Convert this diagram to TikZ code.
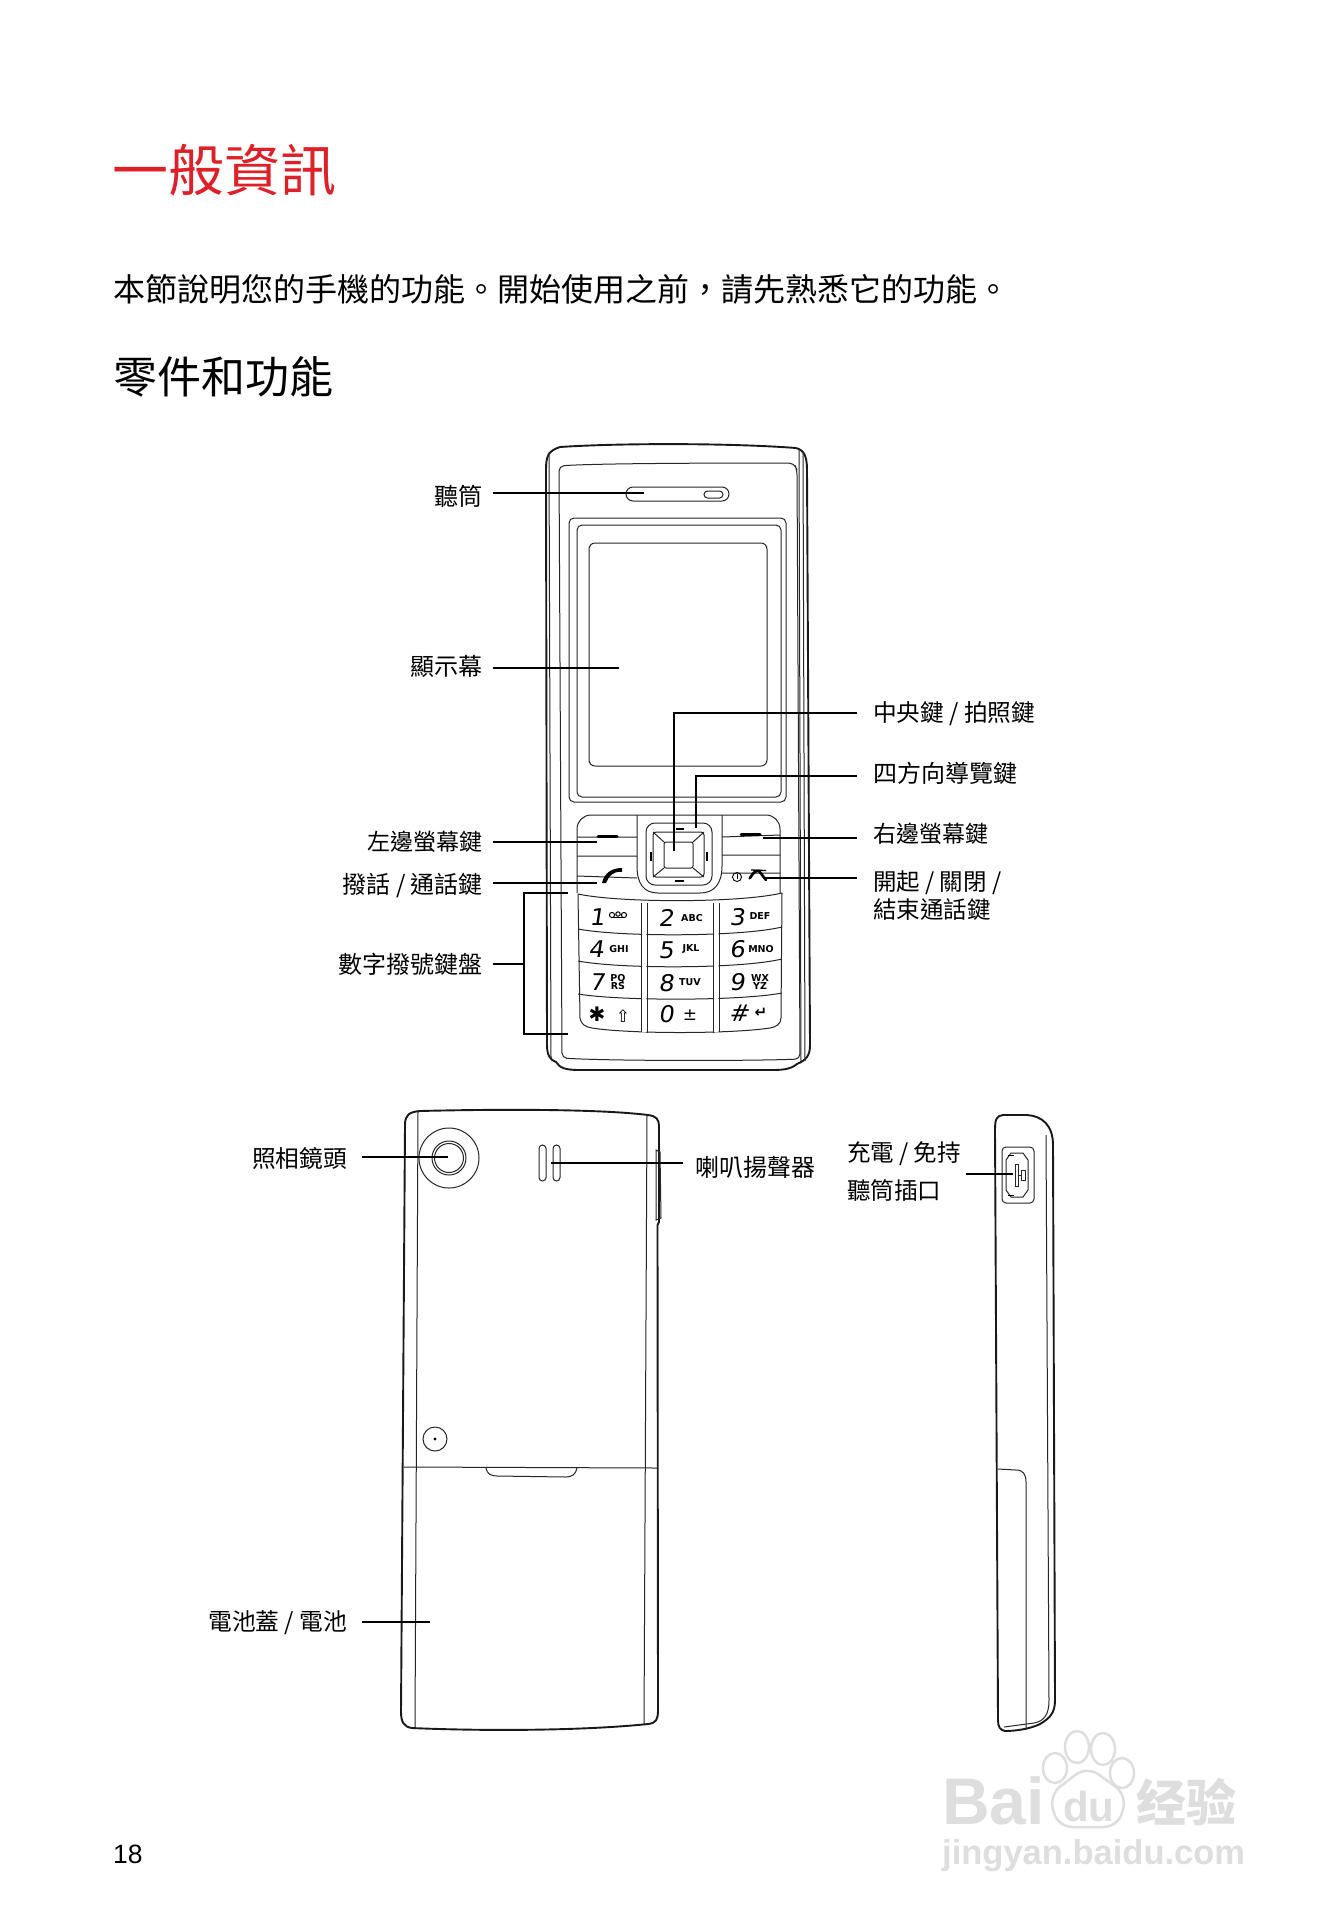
\documentclass[tikz,border=0pt]{standalone}
\usepackage{fontspec}
\setmainfont{Liberation Sans}
\newfontfamily\cjkf{Noto Sans CJK TC}
\newfontfamily\symf{DejaVu Sans}
\newfontfamily\keyf{DejaVu Sans}[FakeSlant=0.15,FakeStretch=1.05]
\definecolor{titlered}{RGB}{222,32,40}
\definecolor{wm}{RGB}{222,222,222}
\newcommand\fsz[1]{\fontsize{#1pt}{#1pt}\selectfont}
\newcommand\keyrowline[3]{\draw[tl] (578,#1) .. controls (620,#2) and (740,#2) .. (782,#3);}
\tikzset{
  ol/.style={line width=1.9pt,black!90},
  tl/.style={line width=1pt,black!85},
  lead/.style={line width=2pt,black},
  lblL/.style={anchor=east,inner ysep=0pt,inner xsep=10pt,font=\cjkf\fsz{24}},
  lblLb/.style={anchor=east,inner ysep=0pt,inner xsep=15pt,font=\cjkf\fsz{24}},
  lblR/.style={anchor=west,inner ysep=0pt,inner xsep=16pt,font=\cjkf\fsz{23.5},align=left},
  digit/.style={inner sep=0pt,font=\keyf\fsz{23}},
  letters/.style={inner sep=0pt,font=\symf\bfseries\fsz{9.5},align=center},
}
\begin{document}
\begin{tikzpicture}[x=1pt,y=-1pt]
\useasboundingbox (0,0) rectangle (1324,1928);
\fill[white] (0,0) rectangle (1324,1928);

% page text
\node[anchor=west,inner sep=0pt,text=titlered,font=\cjkf\fsz{56}] (title) at (112,170) {一般資訊};
\node[anchor=west,inner sep=0pt,font=\cjkf\fsz{32}] (intro) at (113,289) {本節說明您的手機的功能。開始使用之前，請先熟悉它的功能。};
\node[anchor=west,inner sep=0pt,font=\cjkf\fsz{44}] (head) at (113,377) {零件和功能};
\node[anchor=west,inner sep=0pt,font=\fsz{26.5}] (pageno) at (113,1854) {18};

% ---------- front view ----------
\draw[ol] (546,470) .. controls (546,456) and (548,451) .. (560,447) .. controls (620,443) and (730,443) .. (796,448) .. controls (804,450) and (807,456) .. (807,470) -- (810,1045) .. controls (810,1056) and (806,1060) .. (797,1064) .. controls (790,1070) and (780,1070) .. (770,1070) -- (580,1070) .. controls (565,1070) and (560,1068) .. (556,1062) .. controls (550,1060) and (547,1055) .. (547,1045) -- cycle;
\draw[tl] (549,452) -- (551,1058);
\draw[tl] (799,449) -- (801,1063);
\draw[tl] (803,451) -- (805,1061);
\draw[tl,rounded corners=5pt] (559,466) .. controls (600,463) and (750,463) .. (794,463) -- (797,470) -- (800,1059) .. controls (750,1061) and (610,1061) .. (562,1058) -- cycle;
\draw[tl,rounded corners=7pt] (626,487) rectangle (729,501);
\draw[tl,rounded corners=3.5pt] (704,491) rectangle (723,498);
\draw[tl,rounded corners=5pt] (569,518) rectangle (786,802);
\draw[tl,rounded corners=5pt] (577,525) rectangle (781,797);
\draw[tl,rounded corners=6pt] (589,543) rectangle (767,766);

% soft keys
\draw[tl,rounded corners=14pt] (577,893) -- (577,815) -- (780,815) -- (780,893);
\draw[tl] (637,815) -- (637,866) .. controls (637,884) and (644,893) .. (658,893) -- (700,893) .. controls (714,893) and (722,884) .. (722,866) -- (722,815);
\draw[tl] (577,837) -- (637,837) (577,856) -- (637,856) (577,876) -- (637,878);
\draw[tl] (722,837) -- (780,835) (722,855) -- (780,855) (722,873) -- (780,873);
\draw[line width=3pt,line cap=round] (598,836) -- (617,836) (741,834) -- (760,834);
% nav
\draw[tl,rounded corners=9pt] (646,823) rectangle (712,885);
\draw[tl,rounded corners=3pt] (653,832) rectangle (704,877);
\draw[tl,rounded corners=2pt] (664,842) rectangle (693,868);
\draw[tl] (653,832) -- (664,842) (704,832) -- (693,842) (653,877) -- (664,868) (704,877) -- (693,868);
\draw[line width=2pt] (676,829) -- (684,829) (675,881) -- (684,881) (651,852) -- (651,861) (707,852) -- (707,861);
% call icons
\fill (602,883) .. controls (604,873) and (612,868) .. (622,868) -- (622,872) .. controls (617,871) and (613,873) .. (609,877) -- (606,883) -- cycle;
\draw[line width=1.3pt] (751,870) -- (766,870.5) (749,879) .. controls (752,873) and (756,869) .. (759,871) -- (766,880);
\draw[line width=2.6pt,line cap=round] (750,878) .. controls (753,873) and (756,870) .. (759,871) -- (766,880);
\draw[line width=0.9pt] (737,877) circle (4.5);
\draw[line width=0.9pt] (737,874) -- (737,879);

% keypad
\draw[tl] (578,894) .. controls (620,903) and (740,903) .. (782,893);
\keyrowline{929}{937}{927}
\keyrowline{961}{969}{959}
\keyrowline{994}{1001}{993}
\draw[tl] (578,894) -- (580,1018) .. controls (581,1024) and (585,1027) .. (592,1028) .. controls (630,1034) and (730,1034) .. (770,1028) .. controls (776,1027) and (781,1024) .. (781,1018) -- (782,893);
\fill[white] (641.6,903) rectangle (646.4,1032) (713.6,903) rectangle (718.4,1032);
\draw[tl] (641,903) -- (641,1032) (647,903) -- (647,1033) (713,903) -- (713,1033) (719,903) -- (719,1032);

\foreach \nm/\px/\py/\tx in {k1/597/917/1,k2/666/918/2,k3/737/917/3,k4/596/949/4,k5/666/950/5,k6/737/949/6,k7/597/982/7,k8/666/983/8,k9/737/982/9,k0/666/1014/0,kh/739/1013/\#}
  \node[digit] (\nm) at (\px,\py) {\tx};
\node[inner sep=0pt,font=\symf\fsz{20}] (ks) at (597,1014) {✱};
\foreach \nm/\px/\py/\tx in {la/692/918/ABC,lb/760/916/DEF,lc/619/949/GHI,ld/691/949/JKL,le/761/949/MNO,lf/690/982/TUV}
  \node[letters] (\nm) at (\px,\py) {\tx};
\node[letters] (lg) at (618,982) {PQ\\[-1pt]RS};
\node[letters] (lh) at (760,982) {WX\\[-1pt]YZ};
\node[inner sep=0pt,font=\symf\fsz{17}] (li) at (623,1016) {⇧};
\node[inner sep=0pt,font=\symf\fsz{17}] (lj) at (690,1015) {±};
\node[inner sep=0pt,font=\symf\bfseries\fsz{15}] (lk) at (761,1013) {↵};
\draw[line width=1pt] (612,915) circle (2.6) (624,915) circle (2.6) (618,914) circle (2.2);
\draw[line width=1pt] (612,917.6) -- (624,917.6);

% ---------- back view ----------
\draw[ol] (405,1125) .. controls (405,1115) and (409,1112) .. (420,1111) .. controls (500,1109) and (600,1109) .. (648,1115) .. controls (656,1116) and (659,1119) .. (659,1126) -- (659,1222) -- (657.5,1225) -- (658,1710) .. controls (658,1720) and (656,1723) .. (648,1724) .. controls (580,1731) and (480,1731) .. (412,1728) .. controls (404,1727) and (401,1722) .. (401,1712) -- cycle;
\draw[tl] (418,1112) -- (415,1727) (647,1115) -- (644,1725);
\draw[tl] (656,1150) -- (660,1152) -- (661,1218) -- (656,1220) -- cycle;
\draw[tl] (449,1158) circle (30);
\draw[tl] (449,1158) circle (17) (449,1158) circle (14.5);
\draw[tl,rounded corners=3.5pt] (539,1145) rectangle (546,1181) (553,1145) rectangle (560,1181);
\draw[tl] (435,1439) circle (12);
\fill (435,1439) circle (1.6);
\draw[tl] (404,1467) -- (657,1468);
\draw[tl] (486,1468) .. controls (487,1474) and (491,1476) .. (497,1476) -- (566,1477) .. controls (572,1477) and (576,1474) .. (577,1468);

% ---------- side view ----------
\draw[ol] (995,1130) .. controls (995,1118) and (997,1116) .. (1003,1115) -- (1027,1115) .. controls (1042,1116) and (1053,1125) .. (1053,1145) -- (1055,1700) .. controls (1055,1713) and (1050,1718) .. (1040,1724) .. controls (1030,1729) and (1015,1731) .. (1005,1731) .. controls (1000,1730) and (998,1727) .. (998,1720) -- cycle;
\draw[tl] (1046,1135) -- (1049,1700) .. controls (1049,1715) and (1044,1721) .. (1034,1723) -- (1004,1727);
\draw[tl] (998,1469) -- (1016,1470) .. controls (1023,1470) and (1026,1474) .. (1026,1482) -- (1026,1730);
\draw[tl,rounded corners=4pt] (1002,1147) rectangle (1034,1203);
\draw[tl] (1011,1153) -- (1023,1153) -- (1028,1160) -- (1028,1190) -- (1023,1197) -- (1011,1197) -- (1006,1190) -- (1006,1160) -- cycle;
\draw[line width=0.8pt] (1008,1155) -- (1014,1155) (1008,1195) -- (1014,1195);
\draw[tl] (1015,1164) rectangle (1018,1186);
\draw[tl] (1021,1170) rectangle (1025,1180) (1018,1175) -- (1021,1175);

% ---------- labels and connectors ----------
\coordinate (eEar) at (644,493);
\coordinate (eDisp) at (619,668);
\coordinate (eCtrBend) at (674,713);
\coordinate (eCtr) at (674,851);
\coordinate (eNavBend) at (696,776);
\coordinate (eNav) at (696,828);
\coordinate (eSoftL) at (597,842);
\coordinate (eCall) at (597,883);
\coordinate (eSoftR) at (763,838);
\coordinate (eEnd) at (763,878);
\coordinate (brT) at (524,893);
\coordinate (brB) at (524,1034);
\coordinate (brTe) at (568,893);
\coordinate (brBe) at (568,1034);
\coordinate (brM) at (524,964);
\coordinate (eCam) at (448,1157);
\coordinate (eBat) at (430,1622);
\coordinate (eSpk) at (551,1163);
\coordinate (ePort) at (1013,1174);

\node[lblL] (lEar) at (493,496) {聽筒};
\node[lblL] (lDisp) at (493,666) {顯示幕};
\node[lblL,font=\cjkf\fsz{23}] (lSoftL) at (493,842) {左邊螢幕鍵};
\node[lblL] (lCall) at (493,885) {撥話 / 通話鍵};
\node[lblL] (lPad) at (493,964) {數字撥號鍵盤};
\node[lblR,font=\cjkf\fsz{23.7}] (lCtr) at (857,714) {中央鍵 / 拍照鍵};
\node[lblR,font=\cjkf\fsz{24}] (lNav) at (857,773) {四方向導覽鍵};
\node[lblR,font=\cjkf\fsz{23}] (lSoftR) at (857,834) {右邊螢幕鍵};
\node[lblR] (lEnd) at (857,896) {開起 / 關閉 /\\[3pt]結束通話鍵};
\node[lblLb,font=\cjkf\fsz{23.7}] (lCam) at (362,1158) {照相鏡頭};
\node[lblLb,font=\cjkf\fsz{23.7}] (lBat) at (362,1623) {電池蓋 / 電池};
\node[lblR,font=\cjkf\fsz{24},inner xsep=12pt] (lSpk) at (683,1167) {喇叭揚聲器};
\node[lblR,inner xsep=5pt,anchor=east] (lPort) at (966,1174) {\begin{tabular}{@{}l@{}}充電 / 免持\\[11pt]聽筒插口\end{tabular}};

\draw[lead] (lEar.east |- eEar) -- (eEar);
\draw[lead] (lDisp.east |- eDisp) -- (eDisp);
\draw[lead] (lCtr.west |- eCtrBend) -- (eCtrBend) -- (eCtr);
\draw[lead] (lNav.west |- eNavBend) -- (eNavBend) -- (eNav);
\draw[lead] (lSoftL.east |- eSoftL) -- (eSoftL);
\draw[lead] (lCall.east |- eCall) -- (eCall);
\draw[lead] (lSoftR.west |- eSoftR) -- (eSoftR);
\draw[lead] (lEnd.west |- eEnd) -- (eEnd);
\draw[lead] (brTe) -- (brT) -- (brB) -- (brBe);
\draw[lead] (lPad.east |- brM) -- (brM);
\draw[lead] (lCam.east |- eCam) -- (eCam);
\draw[lead] (lBat.east |- eBat) -- (eBat);
\draw[lead] (lSpk.west |- eSpk) -- (eSpk);
\draw[lead] (lPort.east |- ePort) -- (ePort);

% ---------- watermark ----------
\begin{scope}[wm]
\draw[fill=white,line width=2.5pt] (1055,1768) ellipse (12 and 15) (1077,1747) ellipse (12 and 16) (1103,1749) ellipse (12 and 16) (1122,1773) ellipse (12 and 15);
\draw[line width=2.5pt,rounded corners=14pt] (1058,1827) -- (1049,1795) -- (1087,1766) -- (1127,1795) -- (1118,1827) -- cycle;
\node[anchor=west,inner sep=0pt,text=wm,font=\bfseries\fsz{66}] (wmBai) at (942,1801) {Bai};
\node[anchor=west,inner sep=0pt,text=wm,font=\bfseries\fsz{42}] (wmDu) at (1063,1806) {du};
\node[anchor=west,inner sep=0pt,text=wm,font=\cjkf\bfseries\fsz{50}] (wmJy) at (1136,1802) {经验};
\node[anchor=west,inner sep=0pt,text=wm,font=\bfseries\fsz{34.5}] (wmUrl) at (942,1856) {jingyan.baidu.com};
\end{scope}
\end{tikzpicture}
\end{document}
